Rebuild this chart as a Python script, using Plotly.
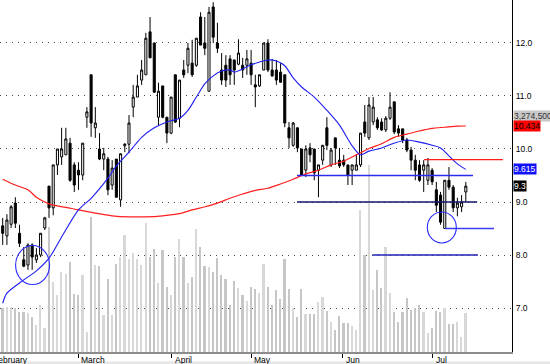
import plotly.graph_objects as go

# ---- data ----
idx = list(range(111))
open_ = [8.55, 8.36, 8.58, 8.98, 8.41, 7.91, 7.81, 8.19, 7.91, 8.00,
         8.51, 9.30, 8.89, 9.70, 9.85, 9.89, 10.11, 9.70, 9.60, 9.51,
         10.60, 11.40, 10.40, 10.00, 9.81, 9.81, 9.32, 9.81, 9.04, 10.06,
         10.09, 10.79, 10.98, 11.30, 11.40, 12.21, 12.00, 10.60, 11.19, 10.60,
         10.30, 11.40, 10.58, 11.49, 11.58, 11.62, 11.58, 12.49, 12.00, 11.09,
         12.68, 12.00, 11.49, 11.58, 11.70, 11.68, 11.60, 11.58, 11.58, 11.62,
         11.21, 11.19, 11.49, 12.00, 11.49, 11.49, 11.45, 11.40, 10.40, 10.07,
         10.40, 10.00, 9.60, 10.02, 10.00, 9.60, 9.79, 10.40, 9.70, 10.21,
         9.79, 9.79, 9.70, 9.60, 9.60, 9.70, 10.51, 10.21, 10.51, 10.55,
         10.51, 10.36, 10.58, 10.89, 10.38, 10.38, 10.17, 9.98, 9.79, 9.70,
         9.60, 9.41, 9.60, 9.23, 9.13, 8.50, 9.41, 9.28, 8.89, 8.91, 9.19]
high = [8.70, 8.77, 8.94, 9.09, 8.57, 8.15, 8.22, 8.22, 8.13, 8.41,
        8.72, 9.30, 9.70, 10.00, 10.40, 10.40, 10.21, 9.75, 9.75, 10.11,
        10.79, 11.40, 10.79, 10.30, 10.02, 9.85, 9.79, 9.81, 9.91, 10.11,
        10.64, 11.21, 11.40, 11.68, 12.19, 12.49, 12.00, 11.25, 11.19, 10.60,
        10.98, 11.40, 11.30, 11.68, 12.00, 12.06, 12.09, 12.58, 12.49, 12.68,
        12.77, 12.38, 11.81, 11.77, 11.77, 11.68, 12.07, 11.72, 11.87, 11.87,
        11.40, 11.40, 12.00, 12.07, 11.70, 11.68, 11.62, 11.40, 10.51, 10.51,
        10.40, 10.00, 10.07, 10.11, 10.00, 9.70, 10.07, 10.60, 10.02, 10.21,
        10.02, 9.89, 9.70, 9.70, 9.89, 10.30, 10.83, 10.98, 10.98, 10.60,
        10.58, 10.62, 11.07, 10.89, 10.45, 10.38, 10.21, 10.04, 9.89, 9.79,
        9.79, 9.83, 9.64, 9.38, 9.19, 9.41, 9.66, 9.32, 9.08, 9.13, 9.38]
low = [8.19, 8.19, 8.51, 8.51, 8.15, 7.77, 7.72, 7.72, 7.85, 7.96,
       8.47, 8.70, 8.75, 9.51, 9.70, 9.89, 9.38, 9.19, 9.23, 9.41,
       10.40, 10.23, 10.21, 9.79, 9.60, 9.13, 9.23, 9.08, 8.91, 9.94,
       9.92, 10.60, 10.98, 11.21, 11.40, 11.72, 11.07, 10.45, 10.58, 10.11,
       10.28, 10.49, 10.41, 11.34, 11.43, 11.36, 11.55, 11.96, 11.77, 11.09,
       12.00, 11.81, 11.21, 11.17, 11.21, 11.21, 11.58, 11.34, 11.40, 11.21,
       10.79, 11.17, 11.49, 11.45, 11.36, 11.21, 11.25, 10.41, 10.02, 10.04,
       9.94, 9.51, 9.47, 9.75, 9.41, 9.09, 9.70, 9.98, 9.66, 9.70,
       9.64, 9.66, 9.32, 9.32, 9.60, 9.66, 10.23, 10.17, 10.45, 10.36,
       10.34, 10.32, 10.55, 10.28, 10.23, 10.11, 9.94, 9.60, 9.41, 9.38,
       9.19, 9.32, 9.32, 8.81, 8.57, 8.50, 9.23, 8.81, 8.73, 8.81, 9.00]
close = [8.41, 8.66, 8.91, 8.60, 8.22, 7.79, 8.19, 7.96, 8.00, 8.41,
         8.70, 8.89, 9.70, 10.00, 10.00, 10.19, 9.41, 9.32, 9.51, 10.11,
         10.70, 10.49, 10.49, 9.81, 9.91, 9.23, 9.64, 9.09, 9.91, 10.09,
         10.49, 10.98, 11.19, 11.49, 12.09, 11.72, 11.07, 11.09, 10.60, 10.30,
         10.98, 10.51, 11.30, 11.40, 11.90, 11.40, 12.09, 11.96, 11.90, 12.58,
         12.11, 11.90, 11.30, 11.30, 11.40, 11.49, 11.81, 11.49, 11.70, 11.40,
         11.17, 11.40, 12.00, 11.49, 11.38, 11.30, 11.26, 10.49, 10.21, 10.49,
         10.02, 9.51, 10.00, 9.89, 9.55, 9.70, 10.07, 10.07, 9.98, 10.02,
         9.68, 9.70, 9.51, 9.70, 9.70, 10.30, 10.30, 10.83, 10.79, 10.40,
         10.36, 10.58, 10.79, 10.32, 10.30, 10.17, 9.98, 9.79, 9.60, 9.41,
         9.70, 9.70, 9.38, 8.94, 8.62, 9.41, 9.28, 8.89, 8.98, 9.00, 9.30]
volume = [3671000, 3780000, 3755000, 3671000, 3385000, 3360000, 3251000, 2965000, 2268000, 3948000,
          1991000, 10500000, 5880000, 4788000, 6720000, 6552000, 7560000, 4872000, 4788000, 6468000,
          1680000, 11340000, 7308000, 7250000, 3108000, 6132000, 3150000, 7392000, 7980000, 9828000,
          7812000, 8316000, 7790000, 7308000, 10836000, 7980000, 8652000, 5796000, 8600000, 5460000,
          4788000, 7980000, 9492000, 7980000, 5796000, 6300000, 10332000, 8820000, 7224000, 7140000,
          6720000, 7896000, 6468000, 6132000, 3948000, 5964000, 5376000, 4788000, 4284000, 5460000,
          5292000, 4956000, 7392000, 5460000, 3948000, 5208000, 4452000, 7812000, 5292000, 3696000,
          2940000, 5292000, 3192000, 3192000, 3192000, 4200000, 4620000, 3444000, 2520000, 1848000,
          3024000, 2436000, 2436000, 2184000, 1848000, 11928000, 8148000, 15708000, 5208000, 6888000,
          5376000, 8820000, 4956000, 3360000, 2520000, 3360000, 4536000, 3528000, 3696000, 3948000,
          3360000, 1596000, 2016000, 3444000, 3360000, 3696000, 2352000, 2352000, 2520000, 1260000,
          3274500]

blue_ma_idx = [0, 1, 5, 8, 11, 14, 18, 21, 25, 27, 30, 33, 36, 39, 42, 44, 46, 48, 50, 52,
               54, 55, 57, 59, 61, 63, 65, 67, 69, 71, 74, 77, 80, 83, 85, 87, 90, 93, 96, 99,
               102, 104, 106, 108, 110]
blue_ma = [7.09, 7.28, 7.53, 7.70, 7.94, 8.34, 8.85, 9.07, 9.45, 9.68, 9.94, 10.22, 10.40, 10.51,
           10.58, 10.73, 10.98, 11.23, 11.38, 11.47, 11.49, 11.45, 11.51, 11.59, 11.64, 11.68,
           11.66, 11.57, 11.34, 11.17, 10.98, 10.73, 10.45, 10.06, 9.89, 9.96, 10.02, 10.11,
           10.17, 10.13, 10.07, 10.02, 9.87, 9.72, 9.615]
red_ma_idx = [0, 3, 6, 8, 10, 12, 15, 18, 22, 26, 30, 34, 38, 42, 45, 48, 51, 54, 57, 60,
              63, 66, 69, 72, 75, 78, 81, 84, 87, 90, 93, 96, 99, 102, 105, 108, 110]
red_ma = [9.43, 9.32, 9.23, 9.09, 9.00, 8.94, 8.90, 8.85, 8.79, 8.74, 8.72, 8.72, 8.74, 8.78,
          8.85, 8.91, 8.98, 9.07, 9.15, 9.22, 9.26, 9.34, 9.43, 9.53, 9.60, 9.70, 9.77, 9.89,
          10.01, 10.10, 10.22, 10.28, 10.34, 10.39, 10.41, 10.43, 10.434]

month_names = ["February", "March", "April", "May", "Jun", "Jul"]
month_pos = [-3.0, 17.9, 40.2, 59.0, 80.8, 102.2]
price_ticks = [7, 8, 9, 10, 11, 12]

level_price = [9.0, 9.5, 9.8, 8.5, 8.0]
level_from = [69.9, 69.9, 100.1, 105.1, 87.8]
level_to = [112.7, 111.7, 118.8, 116.7, 112.9]
level_color = ["#14146e", "#2b2bf0", "#ff1a1a", "#3c3cff", "#2323b4"]

circle_idx = [7.1, 104.3]
circle_price = [7.81, 8.52]
circle_w = [34, 29]
circle_h = [39, 31]

# ---- figure ----
X_RANGE = [-0.641, 120.97]
Y_RANGE = [6.170, 12.811]
FONT = "Arial, Liberation Sans, sans-serif"

vol_colors = ["#d8d8d8" if c >= o else "#c6c6c6" for o, c in zip(open_, close)]

fig = go.Figure()
fig.add_trace(go.Bar(x=idx, y=volume, marker_color=vol_colors, marker_line_width=0,
                     width=0.4, yaxis="y", xaxis="x", showlegend=False, hoverinfo="skip"))
fig.add_trace(go.Candlestick(
    x=idx, open=open_, high=high, low=low, close=close, yaxis="y2", xaxis="x",
    increasing=dict(fillcolor="white", line=dict(color="black", width=1)),
    decreasing=dict(fillcolor="black", line=dict(color="black", width=1)),
    whiskerwidth=0, showlegend=False))
fig.add_trace(go.Scatter(x=red_ma_idx, y=red_ma, mode="lines", yaxis="y2",
                         line=dict(color="#ff1e1e", width=1.2, shape="spline", smoothing=0.8),
                         showlegend=False, hoverinfo="skip"))
fig.add_trace(go.Scatter(x=blue_ma_idx, y=blue_ma, mode="lines", yaxis="y2",
                         line=dict(color="#1e1ef0", width=1.1, shape="spline", smoothing=0.8),
                         showlegend=False, hoverinfo="skip"))

shapes = []
for p, a, b, col in zip(level_price, level_from, level_to, level_color):
    shapes.append(dict(type="line", xref="x", yref="y2", x0=a, x1=b, y0=p, y1=p,
                       line=dict(color=col, width=1.3), layer="above"))
for ci, cp, w, h in zip(circle_idx, circle_price, circle_w, circle_h):
    shapes.append(dict(type="circle", xref="x", yref="y2", xsizemode="pixel", ysizemode="pixel",
                       xanchor=ci, yanchor=cp, x0=-w / 2, x1=w / 2, y0=-h / 2, y1=h / 2,
                       line=dict(color="#2a2aff", width=1.1), layer="above"))
shapes.append(dict(type="rect", xref="paper", yref="paper", x0=0, x1=550 / 512,
                   y0=-12 / 352, y1=-9.5 / 352, fillcolor="#e6e6e6", line=dict(width=0)))

annotations = []
span = X_RANGE[1] - X_RANGE[0]
for name, pos in zip(month_names, month_pos):
    annotations.append(dict(text=name, xref="paper", yref="paper",
                            x=(pos - X_RANGE[0]) / span, y=0, xanchor="left", yanchor="top",
                            xshift=1, yshift=-1, showarrow=False,
                            font=dict(family=FONT, size=8.5, color="black")))

labels = [
    ("{:,}".format(volume[-1]), 10.62, "#c8c8c8", "#333333"),
    ("{:.3f}".format(red_ma[-1]), red_ma[-1], "#ff0000", "#000000"),
    ("{:.3f}".format(blue_ma[-1]), blue_ma[-1], "#1010ff", "#ffffff"),
    ("{:.1f}".format(close[-1]), close[-1], "#000000", "#ffffff"),
]
for txt, yv, bg, fg in labels:
    annotations.append(dict(text=txt, xref="paper", yref="y2", x=1, y=yv, xanchor="left",
                            yanchor="middle", xshift=1, showarrow=False, bgcolor=bg,
                            borderpad=0, font=dict(family=FONT, size=8.5, color=fg)))

fig.update_layout(
    width=550, height=364,
    margin=dict(l=0, r=38, t=0, b=12),
    paper_bgcolor="white", plot_bgcolor="white",
    shapes=shapes, annotations=annotations,
    bargap=0,
    xaxis=dict(range=X_RANGE, showgrid=False, zeroline=False, tickvals=month_pos,
               ticks="outside", ticklen=4, tickcolor="black", tickwidth=1,
               showticklabels=False, showline=True, linecolor="#8c8c8c", linewidth=2,
               rangeslider=dict(visible=False), fixedrange=True),
    yaxis=dict(range=[0, 29.57e6], showgrid=False, zeroline=False, showticklabels=False,
               showline=False, fixedrange=True),
    yaxis2=dict(range=Y_RANGE, overlaying="y", side="right", tickvals=price_ticks,
                tickformat=".1f", showgrid=True, gridcolor="#4a4a4a", gridwidth=1,
                griddash="1px,5px", zeroline=False, showline=True, linecolor="black",
                linewidth=1, ticks="", ticklabelstandoff=1,
                tickfont=dict(family=FONT, size=8.5, color="black"), fixedrange=True),
    font=dict(family=FONT, size=8.5),
)

fig.write_html("out.html", config={"displayModeBar": False},
               post_script="document.body.style.margin='0';document.body.style.padding='0';"
                           "document.body.style.overflow='hidden';")
